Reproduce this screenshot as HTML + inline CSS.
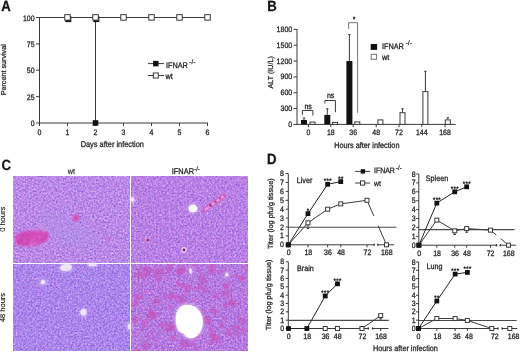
<!DOCTYPE html>
<html><head><meta charset="utf-8"><style>
html,body{margin:0;padding:0;background:#fff;}
body{width:520px;height:353px;overflow:hidden;}
svg{display:block;font-family:"Liberation Sans", sans-serif;filter:blur(0.3px);}
text{stroke:#222;stroke-width:0.25px;text-rendering:geometricPrecision;}
</style></head><body>
<svg width="520" height="353" viewBox="0 0 520 353">
<defs><filter id="txtl" x="0" y="0" width="100%" height="100%" color-interpolation-filters="sRGB">
 <feTurbulence type="fractalNoise" baseFrequency="0.55" numOctaves="2" seed="4" result="t"/>
 <feColorMatrix in="t" type="matrix" values="0.32 -0.45 0 0 0.7983  0.05 -0.5 0 0 0.7662  0.05 -0.22 0 0 1.0026  0 0 0 0 1" result="c"/>
 <feGaussianBlur in="c" stdDeviation="0.65"/>
</filter><filter id="txtr" x="0" y="0" width="100%" height="100%" color-interpolation-filters="sRGB">
 <feTurbulence type="fractalNoise" baseFrequency="0.55" numOctaves="2" seed="8" result="t"/>
 <feColorMatrix in="t" type="matrix" values="0.32 -0.45 0 0 0.7905  0.05 -0.5 0 0 0.7309  0.05 -0.22 0 0 0.9948  0 0 0 0 1" result="c"/>
 <feGaussianBlur in="c" stdDeviation="0.65"/>
</filter><filter id="txbl" x="0" y="0" width="100%" height="100%" color-interpolation-filters="sRGB">
 <feTurbulence type="fractalNoise" baseFrequency="0.55" numOctaves="2" seed="13" result="t"/>
 <feColorMatrix in="t" type="matrix" values="0.32 -0.45 0 0 0.7356  0.05 -0.5 0 0 0.7505  0.05 -0.22 0 0 1.0144  0 0 0 0 1" result="c"/>
 <feGaussianBlur in="c" stdDeviation="0.65"/>
</filter><filter id="txbr" x="0" y="0" width="100%" height="100%" color-interpolation-filters="sRGB">
 <feTurbulence type="fractalNoise" baseFrequency="0.55" numOctaves="2" seed="21" result="t"/>
 <feColorMatrix in="t" type="matrix" values="0.32 -0.45 0 0 0.7787  0.05 -0.5 0 0 0.7113  0.05 -0.22 0 0 0.9791  0 0 0 0 1" result="c"/>
 <feGaussianBlur in="c" stdDeviation="0.65"/>
</filter>
<filter id="bl1" x="-50%" y="-50%" width="200%" height="200%"><feGaussianBlur stdDeviation="0.8"/></filter>
<filter id="bl05" x="-50%" y="-50%" width="200%" height="200%"><feGaussianBlur stdDeviation="0.5"/></filter>
<filter id="bl2" x="-50%" y="-50%" width="200%" height="200%"><feGaussianBlur stdDeviation="1.6"/></filter>
<filter id="mag" x="0" y="0" width="100%" height="100%" color-interpolation-filters="sRGB">
 <feTurbulence type="fractalNoise" baseFrequency="0.12" numOctaves="3" seed="5" result="t"/>
 <feColorMatrix in="t" type="matrix" values="0 0 0 0 0.8  0 0 0 0 0.32  0 0 0 0 0.76  5 0 0 0 -2.7" result="c"/>
 <feGaussianBlur in="c" stdDeviation="0.6"/>
</filter>
<filter id="spk" x="0" y="0" width="100%" height="100%" color-interpolation-filters="sRGB">
 <feTurbulence type="fractalNoise" baseFrequency="0.6" numOctaves="2" seed="17" result="t"/>
 <feColorMatrix in="t" type="matrix" values="0 0 0 0 1  0 0 0 0 0.85  0 0 0 0 1  0 3 0 0 -1.45" result="w"/>
 <feColorMatrix in="t" type="matrix" values="0 0 0 0 0.45  0 0 0 0 0.2  0 0 0 0 0.6  0 0 3 0 -1.45" result="d"/>
 <feMerge result="m"><feMergeNode in="w"/><feMergeNode in="d"/></feMerge>
 <feGaussianBlur in="m" stdDeviation="0.5"/>
</filter>
<filter id="bl5" x="-50%" y="-50%" width="200%" height="200%"><feGaussianBlur stdDeviation="5"/></filter>
<clipPath id="ctl"><rect x="13" y="176" width="116.5" height="86.5"/></clipPath>
<clipPath id="cbr"><rect x="131.3" y="264.2" width="116.7" height="86.6"/></clipPath>
</defs>
<text transform="translate(1.2,10.6) scale(1,1.12)" font-size="13.2" text-anchor="start" fill="#111" font-weight="bold" >A</text><line x1="39.5" y1="17.5" x2="39.5" y2="123.5" stroke="#3a3a3a" stroke-width="1" /><line x1="36" y1="123.0" x2="39.5" y2="123.0" stroke="#3a3a3a" stroke-width="1" /><text transform="translate(34.6,126.0) scale(1,1.12)" font-size="7" text-anchor="end" fill="#1e1e1e" font-weight="normal" >0</text><line x1="36" y1="96.625" x2="39.5" y2="96.625" stroke="#3a3a3a" stroke-width="1" /><text transform="translate(34.6,99.625) scale(1,1.12)" font-size="7" text-anchor="end" fill="#1e1e1e" font-weight="normal" >25</text><line x1="36" y1="70.25" x2="39.5" y2="70.25" stroke="#3a3a3a" stroke-width="1" /><text transform="translate(34.6,73.25) scale(1,1.12)" font-size="7" text-anchor="end" fill="#1e1e1e" font-weight="normal" >50</text><line x1="36" y1="43.875" x2="39.5" y2="43.875" stroke="#3a3a3a" stroke-width="1" /><text transform="translate(34.6,46.875) scale(1,1.12)" font-size="7" text-anchor="end" fill="#1e1e1e" font-weight="normal" >75</text><line x1="36" y1="17.5" x2="39.5" y2="17.5" stroke="#3a3a3a" stroke-width="1" /><text transform="translate(34.6,20.5) scale(1,1.12)" font-size="7" text-anchor="end" fill="#1e1e1e" font-weight="normal" >100</text><line x1="39" y1="123" x2="208" y2="123" stroke="#3a3a3a" stroke-width="1" /><line x1="39.5" y1="123" x2="39.5" y2="126" stroke="#3a3a3a" stroke-width="1" /><text transform="translate(39.5,135) scale(1,1.12)" font-size="7" text-anchor="middle" fill="#1e1e1e" font-weight="normal" >0</text><line x1="67.5" y1="123" x2="67.5" y2="126" stroke="#3a3a3a" stroke-width="1" /><text transform="translate(67.5,135) scale(1,1.12)" font-size="7" text-anchor="middle" fill="#1e1e1e" font-weight="normal" >1</text><line x1="95.5" y1="123" x2="95.5" y2="126" stroke="#3a3a3a" stroke-width="1" /><text transform="translate(95.5,135) scale(1,1.12)" font-size="7" text-anchor="middle" fill="#1e1e1e" font-weight="normal" >2</text><line x1="123.5" y1="123" x2="123.5" y2="126" stroke="#3a3a3a" stroke-width="1" /><text transform="translate(123.5,135) scale(1,1.12)" font-size="7" text-anchor="middle" fill="#1e1e1e" font-weight="normal" >3</text><line x1="151.5" y1="123" x2="151.5" y2="126" stroke="#3a3a3a" stroke-width="1" /><text transform="translate(151.5,135) scale(1,1.12)" font-size="7" text-anchor="middle" fill="#1e1e1e" font-weight="normal" >4</text><line x1="179.5" y1="123" x2="179.5" y2="126" stroke="#3a3a3a" stroke-width="1" /><text transform="translate(179.5,135) scale(1,1.12)" font-size="7" text-anchor="middle" fill="#1e1e1e" font-weight="normal" >5</text><line x1="207.5" y1="123" x2="207.5" y2="126" stroke="#3a3a3a" stroke-width="1" /><text transform="translate(207.5,135) scale(1,1.12)" font-size="7" text-anchor="middle" fill="#1e1e1e" font-weight="normal" >6</text><text transform="translate(112.3,147) scale(1,1.12)" font-size="7.4" text-anchor="middle" fill="#1e1e1e" font-weight="normal" >Days after infection</text><text transform="translate(6.0,69.8) rotate(-90)" font-size="7.2" text-anchor="middle" fill="#1e1e1e">Percent survival</text><line x1="39.5" y1="17.5" x2="207.5" y2="17.5" stroke="#3a3a3a" stroke-width="1" /><line x1="95.5" y1="17.5" x2="95.5" y2="123" stroke="#3a3a3a" stroke-width="1" /><rect x="65.3" y="16.1" width="6" height="6" fill="#111"/><rect x="93.3" y="16.1" width="6" height="6" fill="#111"/><rect x="92.7" y="120.2" width="5.6" height="5.6" fill="#111"/><rect x="64.75" y="14.649999999999999" width="5.5" height="5.5" fill="#fff" stroke="#3a3a3a" stroke-width="1"/><rect x="92.75" y="14.649999999999999" width="5.5" height="5.5" fill="#fff" stroke="#3a3a3a" stroke-width="1"/><rect x="120.75" y="14.649999999999999" width="5.5" height="5.5" fill="#fff" stroke="#3a3a3a" stroke-width="1"/><rect x="148.75" y="14.649999999999999" width="5.5" height="5.5" fill="#fff" stroke="#3a3a3a" stroke-width="1"/><rect x="176.75" y="14.649999999999999" width="5.5" height="5.5" fill="#fff" stroke="#3a3a3a" stroke-width="1"/><rect x="204.75" y="14.649999999999999" width="5.5" height="5.5" fill="#fff" stroke="#3a3a3a" stroke-width="1"/><line x1="148" y1="63.6" x2="164" y2="63.6" stroke="#3a3a3a" stroke-width="1" /><rect x="153.05" y="60.85" width="5.5" height="5.5" fill="#111"/><text transform="translate(166,68) scale(1,1.12)" font-size="7.3" text-anchor="start" fill="#1e1e1e" font-weight="normal" >IFNAR</text><text transform="translate(189.3,63.6) scale(1,1.12)" font-size="5.8" text-anchor="start" fill="#1e1e1e" font-weight="normal" letter-spacing="0.3">-/-</text><line x1="148" y1="75.5" x2="164" y2="75.5" stroke="#3a3a3a" stroke-width="1" /><rect x="153.3" y="73.0" width="5" height="5" fill="#fff" stroke="#3a3a3a" stroke-width="1"/><text transform="translate(165.6,78.7) scale(1,1.12)" font-size="7.3" text-anchor="start" fill="#1e1e1e" font-weight="normal" >wt</text><text transform="translate(267.3,10.6) scale(1,1.12)" font-size="13.2" text-anchor="start" fill="#111" font-weight="bold" >B</text><line x1="297" y1="29" x2="297" y2="124.9" stroke="#3a3a3a" stroke-width="1" /><line x1="293.5" y1="124.4" x2="297" y2="124.4" stroke="#3a3a3a" stroke-width="1" /><text transform="translate(292.2,126.9) scale(1,1.12)" font-size="7" text-anchor="end" fill="#1e1e1e" font-weight="normal" >0</text><line x1="293.5" y1="108.57000000000001" x2="297" y2="108.57000000000001" stroke="#3a3a3a" stroke-width="1" /><text transform="translate(292.2,111.07000000000001) scale(1,1.12)" font-size="7" text-anchor="end" fill="#1e1e1e" font-weight="normal" >300</text><line x1="293.5" y1="92.74000000000001" x2="297" y2="92.74000000000001" stroke="#3a3a3a" stroke-width="1" /><text transform="translate(292.2,95.24000000000001) scale(1,1.12)" font-size="7" text-anchor="end" fill="#1e1e1e" font-weight="normal" >600</text><line x1="293.5" y1="76.91" x2="297" y2="76.91" stroke="#3a3a3a" stroke-width="1" /><text transform="translate(292.2,79.41) scale(1,1.12)" font-size="7" text-anchor="end" fill="#1e1e1e" font-weight="normal" >900</text><line x1="293.5" y1="61.08" x2="297" y2="61.08" stroke="#3a3a3a" stroke-width="1" /><text transform="translate(292.2,63.58) scale(1,1.12)" font-size="7" text-anchor="end" fill="#1e1e1e" font-weight="normal" >1200</text><line x1="293.5" y1="45.25" x2="297" y2="45.25" stroke="#3a3a3a" stroke-width="1" /><text transform="translate(292.2,47.75) scale(1,1.12)" font-size="7" text-anchor="end" fill="#1e1e1e" font-weight="normal" >1500</text><line x1="293.5" y1="29.42" x2="297" y2="29.42" stroke="#3a3a3a" stroke-width="1" /><text transform="translate(292.2,31.92) scale(1,1.12)" font-size="7" text-anchor="end" fill="#1e1e1e" font-weight="normal" >1800</text><line x1="296.5" y1="124.4" x2="455.7" y2="124.4" stroke="#3a3a3a" stroke-width="1" /><line x1="308.4" y1="124.4" x2="308.4" y2="127.2" stroke="#3a3a3a" stroke-width="1" /><text transform="translate(308.4,135.1) scale(1,1.12)" font-size="7" text-anchor="middle" fill="#1e1e1e" font-weight="normal" >0</text><line x1="330.8" y1="124.4" x2="330.8" y2="127.2" stroke="#3a3a3a" stroke-width="1" /><text transform="translate(330.8,135.1) scale(1,1.12)" font-size="7" text-anchor="middle" fill="#1e1e1e" font-weight="normal" >18</text><line x1="353.2" y1="124.4" x2="353.2" y2="127.2" stroke="#3a3a3a" stroke-width="1" /><text transform="translate(353.2,135.1) scale(1,1.12)" font-size="7" text-anchor="middle" fill="#1e1e1e" font-weight="normal" >36</text><line x1="376.2" y1="124.4" x2="376.2" y2="127.2" stroke="#3a3a3a" stroke-width="1" /><text transform="translate(376.2,135.1) scale(1,1.12)" font-size="7" text-anchor="middle" fill="#1e1e1e" font-weight="normal" >48</text><line x1="399.0" y1="124.4" x2="399.0" y2="127.2" stroke="#3a3a3a" stroke-width="1" /><text transform="translate(399.0,135.1) scale(1,1.12)" font-size="7" text-anchor="middle" fill="#1e1e1e" font-weight="normal" >72</text><line x1="421.8" y1="124.4" x2="421.8" y2="127.2" stroke="#3a3a3a" stroke-width="1" /><text transform="translate(421.8,135.1) scale(1,1.12)" font-size="7" text-anchor="middle" fill="#1e1e1e" font-weight="normal" >144</text><line x1="445.0" y1="124.4" x2="445.0" y2="127.2" stroke="#3a3a3a" stroke-width="1" /><text transform="translate(445.0,135.1) scale(1,1.12)" font-size="7" text-anchor="middle" fill="#1e1e1e" font-weight="normal" >168</text><text transform="translate(366.8,147.6) scale(1,1.12)" font-size="7.3" text-anchor="middle" fill="#1e1e1e" font-weight="normal" >Hours after infection</text><text transform="translate(273.1,72.3) rotate(-90)" font-size="7.2" text-anchor="middle" fill="#1e1e1e">ALT (IU/L)</text><line x1="304.0" y1="118.01523333333334" x2="304.0" y2="119.91483333333333" stroke="#3a3a3a" stroke-width="1" /><line x1="302.8" y1="118.01523333333334" x2="305.2" y2="118.01523333333334" stroke="#3a3a3a" stroke-width="1" /><rect x="301.0" y="119.91483333333333" width="6" height="4.485166666666672" fill="#111"/><line x1="327.3" y1="108.78106666666667" x2="327.3" y2="114.902" stroke="#3a3a3a" stroke-width="1" /><line x1="326.1" y1="108.78106666666667" x2="328.5" y2="108.78106666666667" stroke="#3a3a3a" stroke-width="1" /><rect x="324.3" y="114.902" width="6" height="9.498000000000005" fill="#111"/><line x1="349.4" y1="34.59113333333333" x2="349.4" y2="61.027233333333335" stroke="#3a3a3a" stroke-width="1" /><line x1="348.2" y1="34.59113333333333" x2="350.59999999999997" y2="34.59113333333333" stroke="#3a3a3a" stroke-width="1" /><rect x="346.4" y="61.027233333333335" width="6" height="63.37276666666667" fill="#111"/><rect x="310.0" y="122.10336666666667" width="5" height="2.2966333333333324" fill="#fff" stroke="#3a3a3a" stroke-width="1"/><rect x="332.5" y="122.41996666666667" width="5" height="1.9800333333333384" fill="#fff" stroke="#3a3a3a" stroke-width="1"/><rect x="354.8" y="121.8923" width="5" height="2.5077" fill="#fff" stroke="#3a3a3a" stroke-width="1"/><rect x="377.9" y="119.88716666666667" width="5" height="4.512833333333333" fill="#fff" stroke="#3a3a3a" stroke-width="1"/><line x1="402.5" y1="108.78106666666667" x2="402.5" y2="112.21090000000001" stroke="#3a3a3a" stroke-width="1" /><line x1="401.3" y1="108.78106666666667" x2="403.7" y2="108.78106666666667" stroke="#3a3a3a" stroke-width="1" /><rect x="400.0" y="112.71090000000001" width="5" height="11.689099999999996" fill="#fff" stroke="#3a3a3a" stroke-width="1"/><line x1="425.4" y1="71.31673333333333" x2="425.4" y2="91.10423333333334" stroke="#3a3a3a" stroke-width="1" /><line x1="424.2" y1="71.31673333333333" x2="426.59999999999997" y2="71.31673333333333" stroke="#3a3a3a" stroke-width="1" /><rect x="422.9" y="91.60423333333334" width="5" height="32.795766666666665" fill="#fff" stroke="#3a3a3a" stroke-width="1"/><line x1="447.8" y1="117.80416666666667" x2="447.8" y2="119.38716666666667" stroke="#3a3a3a" stroke-width="1" /><line x1="446.6" y1="117.80416666666667" x2="449.0" y2="117.80416666666667" stroke="#3a3a3a" stroke-width="1" /><rect x="445.3" y="119.88716666666667" width="5" height="4.512833333333333" fill="#fff" stroke="#3a3a3a" stroke-width="1"/><polyline points="302.4,114.9 302.4,110.5 312.9,110.5 312.9,115.6" fill="none" stroke="#3a3a3a" stroke-width="1"/><text transform="translate(308.15,108.8) scale(1,1.12)" font-size="7.1" text-anchor="middle" fill="#1e1e1e" font-weight="normal" >ns</text><polyline points="324.9,103.5 324.9,100.5 335.4,100.5 335.4,112.2" fill="none" stroke="#3a3a3a" stroke-width="1"/><text transform="translate(330.65,98.3) scale(1,1.12)" font-size="7.1" text-anchor="middle" fill="#1e1e1e" font-weight="normal" >ns</text><polyline points="348.6,28.7 348.6,22.7 357.6,22.7 357.6,112.9" fill="none" stroke="#777" stroke-width="1"/><text transform="translate(354,21.8) scale(1,1.12)" font-size="7" text-anchor="middle" fill="#1e1e1e" font-weight="normal" >*</text><rect x="370.7" y="44" width="6.4" height="5.9" fill="#111"/><rect x="371.2" y="54.3" width="5.4" height="5" fill="#fff" stroke="#777" stroke-width="1"/><text transform="translate(382,48.9) scale(1,1.12)" font-size="7.3" text-anchor="start" fill="#1e1e1e" font-weight="normal" >IFNAR</text><text transform="translate(405.8,45.1) scale(1,1.12)" font-size="5.8" text-anchor="start" fill="#1e1e1e" font-weight="normal" letter-spacing="0.3">-/-</text><text transform="translate(382,59.6) scale(1,1.12)" font-size="7.3" text-anchor="start" fill="#1e1e1e" font-weight="normal" >wt</text><text transform="translate(1.5,169.5) scale(1,1.12)" font-size="13.2" text-anchor="start" fill="#111" font-weight="bold" >C</text><text transform="translate(71.3,174.2) scale(1,1.12)" font-size="7.3" text-anchor="middle" fill="#1e1e1e" font-weight="normal" style="stroke-width:0.15px">wt</text><text transform="translate(171.8,174.2) scale(1,1.12)" font-size="7.4" text-anchor="start" fill="#1e1e1e" font-weight="normal" >IFNAR</text><text transform="translate(194.2,171.4) scale(1,1.12)" font-size="5.8" text-anchor="start" fill="#1e1e1e" font-weight="normal" >-/-</text><text transform="translate(5.2,219.3) rotate(-90)" font-size="7.5" text-anchor="middle" fill="#1e1e1e" style="stroke-width:0.15px">0 hours</text><text transform="translate(5.2,307.5) rotate(-90)" font-size="7.5" text-anchor="middle" fill="#1e1e1e" style="stroke-width:0.15px">48 hours</text><rect x="13" y="176" width="116.5" height="86.5" filter="url(#txtl)"/>
<rect x="131.3" y="176" width="116.7" height="86.5" filter="url(#txtr)"/>
<rect x="13" y="264.2" width="116.5" height="86.6" filter="url(#txbl)"/>
<rect x="131.3" y="264.2" width="116.7" height="86.6" filter="url(#txbr)"/>
<rect x="131.3" y="264.2" width="116.7" height="86.6" filter="url(#mag)" opacity="0.75"/>
<g clip-path="url(#cbr)"><g filter="url(#bl2)" fill="#c448b0" opacity="0.55">
<ellipse cx="138.9" cy="274.7" rx="4" ry="3.4"/>
<ellipse cx="146.6" cy="273.5" rx="4" ry="3.4"/>
<ellipse cx="159.3" cy="272.2" rx="5" ry="4.25"/>
<ellipse cx="181" cy="269.6" rx="4" ry="3.4"/>
<ellipse cx="202.6" cy="279.8" rx="4" ry="3.4"/>
<ellipse cx="206.4" cy="290" rx="3" ry="2.55"/>
<ellipse cx="225.5" cy="293.8" rx="4" ry="3.4"/>
<ellipse cx="231.9" cy="302.8" rx="4" ry="3.4"/>
<ellipse cx="156.8" cy="301.5" rx="4" ry="3.4"/>
<ellipse cx="182.2" cy="300.2" rx="4" ry="3.4"/>
<ellipse cx="170.8" cy="327" rx="6" ry="5.1"/>
<ellipse cx="206.4" cy="320.6" rx="5" ry="4.25"/>
<ellipse cx="184.8" cy="343.5" rx="5" ry="4.25"/>
<ellipse cx="242.1" cy="320.6" rx="4" ry="3.4"/>
<ellipse cx="150.4" cy="315.5" rx="4" ry="3.4"/>
<ellipse cx="216.6" cy="338.4" rx="4" ry="3.4"/>
<ellipse cx="145.3" cy="346" rx="4" ry="3.4"/>
<ellipse cx="237" cy="333.3" rx="3" ry="2.55"/>
</g></g>
<g clip-path="url(#ctl)"><ellipse cx="68" cy="230" rx="34" ry="13" transform="rotate(28 68 230)" fill="#a898ec" opacity="0.35" filter="url(#bl5)"/></g>
<g filter="url(#bl1)">
<path d="M15.3,238.8 C15.5,235 17,233.8 18.8,233.5 C22,231.5 25,230.8 27.7,230.8 L39.2,230.4 C44,230.3 48.5,232 48.9,235.3 C49,238 47,240.5 45.4,241.5 C41,244 36,246.2 32.1,246.3 L20.6,245.9 C18,245.5 16.2,244.5 16.2,243.2 C15.5,241.5 15.3,240 15.3,238.8 Z" fill="#d648b8"/>
<path d="M33.9,228.6 C40,228.3 46,229.5 48.5,232" stroke="#e890e0" stroke-width="1.2" fill="none" opacity="0.7"/>
<circle cx="24.9" cy="239.1" r="0.8" fill="#ec80d8" opacity="0.8"/>
<circle cx="31.7" cy="239.6" r="1.0" fill="#b02c90" opacity="0.8"/>
<circle cx="25.5" cy="235.0" r="1.2" fill="#b02c90" opacity="0.8"/>
<circle cx="33.7" cy="239.1" r="0.8" fill="#f098e0" opacity="0.8"/>
<circle cx="24.7" cy="234.0" r="1.2" fill="#b02c90" opacity="0.8"/>
<circle cx="39.5" cy="240.7" r="0.6" fill="#ec80d8" opacity="0.8"/>
<circle cx="19.2" cy="242.1" r="1.1" fill="#b02c90" opacity="0.8"/>
<circle cx="31.7" cy="241.3" r="1.1" fill="#ec80d8" opacity="0.8"/>
<circle cx="40.9" cy="237.6" r="1.0" fill="#ec80d8" opacity="0.8"/>
<circle cx="30.9" cy="244.2" r="1.1" fill="#f098e0" opacity="0.8"/>
<circle cx="19.0" cy="238.4" r="0.8" fill="#ec80d8" opacity="0.8"/>
<circle cx="30.6" cy="240.1" r="0.8" fill="#ec80d8" opacity="0.8"/>
<circle cx="42.2" cy="239.5" r="0.9" fill="#b02c90" opacity="0.8"/>
<circle cx="34.9" cy="243.8" r="1.0" fill="#f098e0" opacity="0.8"/>
<circle cx="42.8" cy="244.9" r="1.0" fill="#f098e0" opacity="0.8"/>
<circle cx="38.3" cy="236.2" r="0.9" fill="#ec80d8" opacity="0.8"/>
<circle cx="34.5" cy="241.3" r="0.7" fill="#ec80d8" opacity="0.8"/>
<circle cx="25.7" cy="233.6" r="0.9" fill="#ec80d8" opacity="0.8"/>
<circle cx="46.7" cy="233.2" r="1.1" fill="#b02c90" opacity="0.8"/>
<circle cx="44.0" cy="232.3" r="0.9" fill="#b02c90" opacity="0.8"/>
<circle cx="43.3" cy="232.6" r="1.0" fill="#f098e0" opacity="0.8"/>
<circle cx="29.0" cy="239.6" r="0.9" fill="#b02c90" opacity="0.8"/>
<circle cx="32.7" cy="245.0" r="0.8" fill="#f098e0" opacity="0.8"/>
<circle cx="21.1" cy="239.0" r="1.2" fill="#b02c90" opacity="0.8"/>
<circle cx="26.5" cy="235.4" r="1.0" fill="#b02c90" opacity="0.8"/>
<circle cx="27.1" cy="244.5" r="1.1" fill="#b02c90" opacity="0.8"/>
<ellipse cx="76.2" cy="217.8" rx="3.4" ry="3.6" fill="#d850b8"/>
<ellipse cx="108.8" cy="239" rx="1.2" ry="2.2" fill="#c860c0"/>
</g>
<g filter="url(#bl05)">
<line x1="204.8" y1="210" x2="223.5" y2="196" stroke="#d860b8" stroke-width="4.6" stroke-linecap="round" opacity="0.9"/>
<line x1="205.6" y1="209.3" x2="222.8" y2="196.6" stroke="#eaa0e4" stroke-width="2.2" stroke-linecap="round"/>
<circle cx="210.5" cy="205.4" r="1.4" fill="#a03080"/>
<circle cx="215.5" cy="201.8" r="1.2" fill="#b03890"/>
<circle cx="220" cy="198.4" r="1.1" fill="#b03890"/>
<circle cx="147.9" cy="240.2" r="2.8" fill="#e090d8" opacity="0.8"/>
<circle cx="147.9" cy="240.2" r="1.4" fill="#903070"/>
<circle cx="184" cy="249.9" r="2.8" fill="#f4d0f4"/>
<circle cx="184" cy="249.9" r="1.4" fill="#602860"/>
</g>
<rect x="13" y="176" width="116.5" height="86.5" filter="url(#spk)" opacity="0.2"/>
<rect x="131.3" y="176" width="116.7" height="86.5" filter="url(#spk)" opacity="0.2"/>
<rect x="13" y="264.2" width="116.5" height="86.6" filter="url(#spk)" opacity="0.2"/>
<rect x="131.3" y="264.2" width="116.7" height="86.6" filter="url(#spk)" opacity="0.2"/>
<g filter="url(#bl2)" opacity="0.5" stroke="#f0dcff" stroke-width="2.5">
<ellipse cx="192.9" cy="208.5" rx="4.3" ry="3.7" fill="#f0dcff"/>
<ellipse cx="132.6" cy="199.5" rx="1.6" ry="2.2" fill="#f0dcff"/>
<path d="M60.5,268.5 C60,265.5 63,264 66.5,264 C70,264 72.2,265.2 71.8,267.5 C71.3,270 68,271.2 64.5,271 C62,270.8 60.8,270 60.5,268.5 Z" fill="#f0dcff"/>
<ellipse cx="92.5" cy="265" rx="4" ry="1.2" fill="#f0dcff"/>
<circle cx="43" cy="282.1" r="2.2" fill="#f0dcff"/>
<ellipse cx="83.5" cy="312.3" rx="3" ry="3.4" fill="#f0dcff"/>
<ellipse cx="129" cy="326.5" rx="1.3" ry="2.8" fill="#f0dcff"/>
<path d="M186,304.8 C195,304.2 202,311 202.8,320 C203.6,330 198,337.8 191,338.3 C186.5,338.5 185,335 183.4,333.6 C181,333 176.5,331 175.8,322 C175.2,312 179,305.2 186,304.8 Z" fill="#f0dcff"/>
<ellipse cx="190.6" cy="270.9" rx="1.1" ry="2.6" fill="#f0dcff"/>
<circle cx="226.8" cy="274.7" r="1.7" fill="#f0dcff"/>
</g>
<g filter="url(#bl05)">
<ellipse cx="192.9" cy="208.5" rx="4.3" ry="3.7" fill="#fdf8ff"/>
<ellipse cx="132.6" cy="199.5" rx="1.6" ry="2.2" fill="#f4eefa"/>
<path d="M60.5,268.5 C60,265.5 63,264 66.5,264 C70,264 72.2,265.2 71.8,267.5 C71.3,270 68,271.2 64.5,271 C62,270.8 60.8,270 60.5,268.5 Z" fill="#ece6f2"/>
<ellipse cx="92.5" cy="265" rx="4" ry="1.2" fill="#e8e0f4"/>
<circle cx="43" cy="282.1" r="2.2" fill="#eee8f6"/>
<ellipse cx="83.5" cy="312.3" rx="3" ry="3.4" fill="#ece6f4"/>
<ellipse cx="129" cy="326.5" rx="1.3" ry="2.8" fill="#ece6f4"/>
<path d="M186,304.8 C195,304.2 202,311 202.8,320 C203.6,330 198,337.8 191,338.3 C186.5,338.5 185,335 183.4,333.6 C181,333 176.5,331 175.8,322 C175.2,312 179,305.2 186,304.8 Z" fill="#ffffff"/>
<ellipse cx="190.6" cy="270.9" rx="1.1" ry="2.6" fill="#f6f0fa"/>
<circle cx="226.8" cy="274.7" r="1.7" fill="#f6f0fa"/>
</g><text transform="translate(267,163.8) scale(1,1.12)" font-size="13.2" text-anchor="start" fill="#111" font-weight="bold" >D</text><text transform="translate(272.9,213.7) rotate(-90)" font-size="7.35" text-anchor="middle" fill="#1e1e1e">Titer (log pfu/g tissue)</text><text transform="translate(271.4,294.8) rotate(-90)" font-size="7.35" text-anchor="middle" fill="#1e1e1e">Titer (log pfu/g tissue)</text><text transform="translate(405.4,351) scale(1,1.12)" font-size="7.25" text-anchor="middle" fill="#1e1e1e" font-weight="normal" >Hours after infection</text><line x1="355.1" y1="171.4" x2="370.2" y2="171.4" stroke="#3a3a3a" stroke-width="1" /><rect x="360.7" y="169.20000000000002" width="4.4" height="4.4" fill="#111"/><text transform="translate(374,173.4) scale(1,1.12)" font-size="6.95" text-anchor="start" fill="#1e1e1e" font-weight="normal" >IFNAR</text><text transform="translate(396,169.9) scale(1,1.12)" font-size="5.8" text-anchor="start" fill="#1e1e1e" font-weight="normal" letter-spacing="0.1">-/-</text><line x1="355.1" y1="183" x2="370.2" y2="183" stroke="#3a3a3a" stroke-width="1" /><rect x="360.5" y="180.9" width="4.2" height="4.2" fill="#fff" stroke="#3a3a3a" stroke-width="1"/><text transform="translate(374,185.5) scale(1,1.12)" font-size="6.8" text-anchor="start" fill="#1e1e1e" font-weight="normal" >wt</text><line x1="288.3" y1="173.60000000000002" x2="288.3" y2="245.3" stroke="#3a3a3a" stroke-width="1" /><line x1="285.7" y1="244.8" x2="288.3" y2="244.8" stroke="#3a3a3a" stroke-width="1" /><text transform="translate(284.0,247.3) scale(1,1.12)" font-size="7" text-anchor="end" fill="#1e1e1e" font-weight="normal" >0</text><line x1="285.7" y1="235.9" x2="288.3" y2="235.9" stroke="#3a3a3a" stroke-width="1" /><text transform="translate(284.0,238.4) scale(1,1.12)" font-size="7" text-anchor="end" fill="#1e1e1e" font-weight="normal" >1</text><line x1="285.7" y1="227.0" x2="288.3" y2="227.0" stroke="#3a3a3a" stroke-width="1" /><text transform="translate(284.0,229.5) scale(1,1.12)" font-size="7" text-anchor="end" fill="#1e1e1e" font-weight="normal" >2</text><line x1="285.7" y1="218.10000000000002" x2="288.3" y2="218.10000000000002" stroke="#3a3a3a" stroke-width="1" /><text transform="translate(284.0,220.60000000000002) scale(1,1.12)" font-size="7" text-anchor="end" fill="#1e1e1e" font-weight="normal" >3</text><line x1="285.7" y1="209.20000000000002" x2="288.3" y2="209.20000000000002" stroke="#3a3a3a" stroke-width="1" /><text transform="translate(284.0,211.70000000000002) scale(1,1.12)" font-size="7" text-anchor="end" fill="#1e1e1e" font-weight="normal" >4</text><line x1="285.7" y1="200.3" x2="288.3" y2="200.3" stroke="#3a3a3a" stroke-width="1" /><text transform="translate(284.0,202.8) scale(1,1.12)" font-size="7" text-anchor="end" fill="#1e1e1e" font-weight="normal" >5</text><line x1="285.7" y1="191.4" x2="288.3" y2="191.4" stroke="#3a3a3a" stroke-width="1" /><text transform="translate(284.0,193.9) scale(1,1.12)" font-size="7" text-anchor="end" fill="#1e1e1e" font-weight="normal" >6</text><line x1="285.7" y1="182.5" x2="288.3" y2="182.5" stroke="#3a3a3a" stroke-width="1" /><text transform="translate(284.0,185.0) scale(1,1.12)" font-size="7" text-anchor="end" fill="#1e1e1e" font-weight="normal" >7</text><line x1="285.7" y1="173.60000000000002" x2="288.3" y2="173.60000000000002" stroke="#3a3a3a" stroke-width="1" /><text transform="translate(284.0,176.10000000000002) scale(1,1.12)" font-size="7" text-anchor="end" fill="#1e1e1e" font-weight="normal" >8</text><line x1="288.3" y1="244.8" x2="374.4" y2="244.8" stroke="#3a3a3a" stroke-width="1" /><line x1="377.6" y1="244.8" x2="394" y2="244.8" stroke="#3a3a3a" stroke-width="1" /><ellipse cx="374.09999999999997" cy="244.8" rx="0.8" ry="1.3" fill="#3a3a3a"/><ellipse cx="377.90000000000003" cy="244.8" rx="0.8" ry="1.3" fill="#3a3a3a"/><line x1="288.3" y1="244.8" x2="288.3" y2="247.3" stroke="#3a3a3a" stroke-width="1" /><text transform="translate(288.6,255.3) scale(1,1.12)" font-size="7" text-anchor="middle" fill="#1e1e1e" font-weight="normal" >0</text><line x1="307.974" y1="244.8" x2="307.974" y2="247.3" stroke="#3a3a3a" stroke-width="1" /><text transform="translate(308.274,255.3) scale(1,1.12)" font-size="7" text-anchor="middle" fill="#1e1e1e" font-weight="normal" >18</text><line x1="327.648" y1="244.8" x2="327.648" y2="247.3" stroke="#3a3a3a" stroke-width="1" /><text transform="translate(327.94800000000004,255.3) scale(1,1.12)" font-size="7" text-anchor="middle" fill="#1e1e1e" font-weight="normal" >36</text><line x1="340.764" y1="244.8" x2="340.764" y2="247.3" stroke="#3a3a3a" stroke-width="1" /><text transform="translate(341.064,255.3) scale(1,1.12)" font-size="7" text-anchor="middle" fill="#1e1e1e" font-weight="normal" >48</text><line x1="366.996" y1="244.8" x2="366.996" y2="247.3" stroke="#3a3a3a" stroke-width="1" /><text transform="translate(367.40000000000003,255.3) scale(1,1.12)" font-size="7" text-anchor="middle" fill="#1e1e1e" font-weight="normal" >72</text><line x1="386.5" y1="244.8" x2="386.5" y2="247.3" stroke="#3a3a3a" stroke-width="1" /><text transform="translate(386.8,255.3) scale(1,1.12)" font-size="7" text-anchor="middle" fill="#1e1e1e" font-weight="normal" >168</text><line x1="288.3" y1="227.267" x2="396.4" y2="227.267" stroke="#4a4a4a" stroke-width="1.2" /><text transform="translate(296.7,182.7) scale(1,1.12)" font-size="7.2" text-anchor="start" fill="#1e1e1e" font-weight="normal" >Liver</text><polyline points="288.30,244.80 307.97,222.82 327.65,209.20 340.76,203.86 367.00,200.30 373.90,216.05" fill="none" stroke="#3a3a3a" stroke-width="1"/><polyline points="378.10,225.63 386.50,244.80" fill="none" stroke="#3a3a3a" stroke-width="1"/><polyline points="288.30,244.80 307.97,213.65 327.65,184.28 340.76,181.61" fill="none" stroke="#222" stroke-width="1"/><line x1="307.974" y1="222.817" x2="307.974" y2="228.602" stroke="#3a3a3a" stroke-width="1" /><line x1="306.674" y1="228.602" x2="309.274" y2="228.602" stroke="#3a3a3a" stroke-width="1" /><rect x="286.3" y="242.8" width="4.0" height="4.0" fill="#fff" stroke="#3a3a3a" stroke-width="1"/><rect x="305.974" y="220.817" width="4.0" height="4.0" fill="#fff" stroke="#3a3a3a" stroke-width="1"/><rect x="325.648" y="207.20000000000002" width="4.0" height="4.0" fill="#fff" stroke="#3a3a3a" stroke-width="1"/><rect x="338.764" y="201.86" width="4.0" height="4.0" fill="#fff" stroke="#3a3a3a" stroke-width="1"/><rect x="364.996" y="198.3" width="4.0" height="4.0" fill="#fff" stroke="#3a3a3a" stroke-width="1"/><rect x="384.5" y="242.8" width="4.0" height="4.0" fill="#fff" stroke="#3a3a3a" stroke-width="1"/><rect x="285.90000000000003" y="242.4" width="4.8" height="4.8" fill="#111"/><rect x="305.574" y="211.25" width="4.8" height="4.8" fill="#111"/><rect x="325.24800000000005" y="181.88" width="4.8" height="4.8" fill="#111"/><rect x="338.36400000000003" y="179.21" width="4.8" height="4.8" fill="#111"/><text transform="translate(308.174,212.65) scale(1,1.12)" font-size="6" text-anchor="middle" fill="#1e1e1e" font-weight="normal" letter-spacing="0.4">*</text><text transform="translate(327.848,183.28) scale(1,1.12)" font-size="6" text-anchor="middle" fill="#1e1e1e" font-weight="normal" letter-spacing="0.4">***</text><text transform="translate(340.964,180.61) scale(1,1.12)" font-size="6" text-anchor="middle" fill="#1e1e1e" font-weight="normal" letter-spacing="0.4">**</text><line x1="418.8" y1="174.0" x2="418.8" y2="245.7" stroke="#3a3a3a" stroke-width="1" /><line x1="416.2" y1="245.2" x2="418.8" y2="245.2" stroke="#3a3a3a" stroke-width="1" /><text transform="translate(415.6,247.7) scale(1,1.12)" font-size="7" text-anchor="end" fill="#1e1e1e" font-weight="normal" >0</text><line x1="416.2" y1="236.29999999999998" x2="418.8" y2="236.29999999999998" stroke="#3a3a3a" stroke-width="1" /><text transform="translate(415.6,238.79999999999998) scale(1,1.12)" font-size="7" text-anchor="end" fill="#1e1e1e" font-weight="normal" >1</text><line x1="416.2" y1="227.39999999999998" x2="418.8" y2="227.39999999999998" stroke="#3a3a3a" stroke-width="1" /><text transform="translate(415.6,229.89999999999998) scale(1,1.12)" font-size="7" text-anchor="end" fill="#1e1e1e" font-weight="normal" >2</text><line x1="416.2" y1="218.5" x2="418.8" y2="218.5" stroke="#3a3a3a" stroke-width="1" /><text transform="translate(415.6,221.0) scale(1,1.12)" font-size="7" text-anchor="end" fill="#1e1e1e" font-weight="normal" >3</text><line x1="416.2" y1="209.6" x2="418.8" y2="209.6" stroke="#3a3a3a" stroke-width="1" /><text transform="translate(415.6,212.1) scale(1,1.12)" font-size="7" text-anchor="end" fill="#1e1e1e" font-weight="normal" >4</text><line x1="416.2" y1="200.7" x2="418.8" y2="200.7" stroke="#3a3a3a" stroke-width="1" /><text transform="translate(415.6,203.2) scale(1,1.12)" font-size="7" text-anchor="end" fill="#1e1e1e" font-weight="normal" >5</text><line x1="416.2" y1="191.79999999999998" x2="418.8" y2="191.79999999999998" stroke="#3a3a3a" stroke-width="1" /><text transform="translate(415.6,194.29999999999998) scale(1,1.12)" font-size="7" text-anchor="end" fill="#1e1e1e" font-weight="normal" >6</text><line x1="416.2" y1="182.89999999999998" x2="418.8" y2="182.89999999999998" stroke="#3a3a3a" stroke-width="1" /><text transform="translate(415.6,185.39999999999998) scale(1,1.12)" font-size="7" text-anchor="end" fill="#1e1e1e" font-weight="normal" >7</text><line x1="416.2" y1="174.0" x2="418.8" y2="174.0" stroke="#3a3a3a" stroke-width="1" /><text transform="translate(415.6,176.5) scale(1,1.12)" font-size="7" text-anchor="end" fill="#1e1e1e" font-weight="normal" >8</text><line x1="418.8" y1="245.2" x2="496.8" y2="245.2" stroke="#3a3a3a" stroke-width="1" /><line x1="500.1" y1="245.2" x2="516" y2="245.2" stroke="#3a3a3a" stroke-width="1" /><ellipse cx="496.5" cy="245.2" rx="0.8" ry="1.3" fill="#3a3a3a"/><ellipse cx="500.40000000000003" cy="245.2" rx="0.8" ry="1.3" fill="#3a3a3a"/><line x1="418.9" y1="245.2" x2="418.9" y2="247.7" stroke="#3a3a3a" stroke-width="1" /><text transform="translate(419.2,255.7) scale(1,1.12)" font-size="7" text-anchor="middle" fill="#1e1e1e" font-weight="normal" >0</text><line x1="436.81" y1="245.2" x2="436.81" y2="247.7" stroke="#3a3a3a" stroke-width="1" /><text transform="translate(437.11,255.7) scale(1,1.12)" font-size="7" text-anchor="middle" fill="#1e1e1e" font-weight="normal" >18</text><line x1="454.71999999999997" y1="245.2" x2="454.71999999999997" y2="247.7" stroke="#3a3a3a" stroke-width="1" /><text transform="translate(455.02,255.7) scale(1,1.12)" font-size="7" text-anchor="middle" fill="#1e1e1e" font-weight="normal" >36</text><line x1="466.65999999999997" y1="245.2" x2="466.65999999999997" y2="247.7" stroke="#3a3a3a" stroke-width="1" /><text transform="translate(466.96,255.7) scale(1,1.12)" font-size="7" text-anchor="middle" fill="#1e1e1e" font-weight="normal" >48</text><line x1="490.53999999999996" y1="245.2" x2="490.53999999999996" y2="247.7" stroke="#3a3a3a" stroke-width="1" /><text transform="translate(490.6,255.7) scale(1,1.12)" font-size="7" text-anchor="middle" fill="#1e1e1e" font-weight="normal" >72</text><line x1="508.5" y1="245.2" x2="508.5" y2="247.7" stroke="#3a3a3a" stroke-width="1" /><text transform="translate(508.8,255.7) scale(1,1.12)" font-size="7" text-anchor="middle" fill="#1e1e1e" font-weight="normal" >168</text><line x1="418.8" y1="229.625" x2="514.5" y2="229.625" stroke="#4a4a4a" stroke-width="1.2" /><text transform="translate(425.8,181.3) scale(1,1.12)" font-size="7.2" text-anchor="start" fill="#1e1e1e" font-weight="normal" >Spleen</text><polyline points="418.90,245.20 436.81,220.10 454.72,230.78 466.66,228.56 490.54,230.16 496.30,234.98" fill="none" stroke="#3a3a3a" stroke-width="1"/><polyline points="500.60,238.58 508.50,245.20" fill="none" stroke="#3a3a3a" stroke-width="1"/><polyline points="418.90,245.20 436.81,203.10 454.72,191.80 466.66,186.82" fill="none" stroke="#222" stroke-width="1"/><line x1="454.71999999999997" y1="230.78199999999998" x2="454.71999999999997" y2="234.51999999999998" stroke="#3a3a3a" stroke-width="1" /><line x1="453.41999999999996" y1="234.51999999999998" x2="456.02" y2="234.51999999999998" stroke="#3a3a3a" stroke-width="1" /><line x1="466.65999999999997" y1="228.557" x2="466.65999999999997" y2="232.295" stroke="#3a3a3a" stroke-width="1" /><line x1="465.35999999999996" y1="232.295" x2="467.96" y2="232.295" stroke="#3a3a3a" stroke-width="1" /><rect x="416.9" y="243.2" width="4.0" height="4.0" fill="#fff" stroke="#3a3a3a" stroke-width="1"/><rect x="434.81" y="218.10199999999998" width="4.0" height="4.0" fill="#fff" stroke="#3a3a3a" stroke-width="1"/><rect x="452.71999999999997" y="228.78199999999998" width="4.0" height="4.0" fill="#fff" stroke="#3a3a3a" stroke-width="1"/><rect x="464.65999999999997" y="226.557" width="4.0" height="4.0" fill="#fff" stroke="#3a3a3a" stroke-width="1"/><rect x="488.53999999999996" y="228.159" width="4.0" height="4.0" fill="#fff" stroke="#3a3a3a" stroke-width="1"/><rect x="506.5" y="243.2" width="4.0" height="4.0" fill="#fff" stroke="#3a3a3a" stroke-width="1"/><rect x="416.5" y="242.79999999999998" width="4.8" height="4.8" fill="#111"/><rect x="434.41" y="200.70299999999997" width="4.8" height="4.8" fill="#111"/><rect x="452.32" y="189.39999999999998" width="4.8" height="4.8" fill="#111"/><rect x="464.26" y="184.41599999999997" width="4.8" height="4.8" fill="#111"/><text transform="translate(437.01,202.10299999999998) scale(1,1.12)" font-size="6" text-anchor="middle" fill="#1e1e1e" font-weight="normal" letter-spacing="0.4">***</text><text transform="translate(454.91999999999996,190.79999999999998) scale(1,1.12)" font-size="6" text-anchor="middle" fill="#1e1e1e" font-weight="normal" letter-spacing="0.4">***</text><text transform="translate(466.85999999999996,185.81599999999997) scale(1,1.12)" font-size="6" text-anchor="middle" fill="#1e1e1e" font-weight="normal" letter-spacing="0.4">***</text><line x1="288.3" y1="261.78" x2="288.3" y2="329.0" stroke="#3a3a3a" stroke-width="1" /><line x1="285.7" y1="328.5" x2="288.3" y2="328.5" stroke="#3a3a3a" stroke-width="1" /><text transform="translate(284.2,331.0) scale(1,1.12)" font-size="7" text-anchor="end" fill="#1e1e1e" font-weight="normal" >0</text><line x1="285.7" y1="320.16" x2="288.3" y2="320.16" stroke="#3a3a3a" stroke-width="1" /><text transform="translate(284.2,322.66) scale(1,1.12)" font-size="7" text-anchor="end" fill="#1e1e1e" font-weight="normal" >1</text><line x1="285.7" y1="311.82" x2="288.3" y2="311.82" stroke="#3a3a3a" stroke-width="1" /><text transform="translate(284.2,314.32) scale(1,1.12)" font-size="7" text-anchor="end" fill="#1e1e1e" font-weight="normal" >2</text><line x1="285.7" y1="303.48" x2="288.3" y2="303.48" stroke="#3a3a3a" stroke-width="1" /><text transform="translate(284.2,305.98) scale(1,1.12)" font-size="7" text-anchor="end" fill="#1e1e1e" font-weight="normal" >3</text><line x1="285.7" y1="295.14" x2="288.3" y2="295.14" stroke="#3a3a3a" stroke-width="1" /><text transform="translate(284.2,297.64) scale(1,1.12)" font-size="7" text-anchor="end" fill="#1e1e1e" font-weight="normal" >4</text><line x1="285.7" y1="286.8" x2="288.3" y2="286.8" stroke="#3a3a3a" stroke-width="1" /><text transform="translate(284.2,289.3) scale(1,1.12)" font-size="7" text-anchor="end" fill="#1e1e1e" font-weight="normal" >5</text><line x1="285.7" y1="278.46" x2="288.3" y2="278.46" stroke="#3a3a3a" stroke-width="1" /><text transform="translate(284.2,280.96) scale(1,1.12)" font-size="7" text-anchor="end" fill="#1e1e1e" font-weight="normal" >6</text><line x1="285.7" y1="270.12" x2="288.3" y2="270.12" stroke="#3a3a3a" stroke-width="1" /><text transform="translate(284.2,272.62) scale(1,1.12)" font-size="7" text-anchor="end" fill="#1e1e1e" font-weight="normal" >7</text><line x1="285.7" y1="261.78" x2="288.3" y2="261.78" stroke="#3a3a3a" stroke-width="1" /><text transform="translate(284.2,264.28) scale(1,1.12)" font-size="7" text-anchor="end" fill="#1e1e1e" font-weight="normal" >8</text><line x1="288.3" y1="328.5" x2="368.6" y2="328.5" stroke="#3a3a3a" stroke-width="1" /><line x1="372.4" y1="328.5" x2="388.5" y2="328.5" stroke="#3a3a3a" stroke-width="1" /><ellipse cx="368.3" cy="328.5" rx="0.8" ry="1.3" fill="#3a3a3a"/><ellipse cx="372.7" cy="328.5" rx="0.8" ry="1.3" fill="#3a3a3a"/><line x1="288.5" y1="328.5" x2="288.5" y2="331.0" stroke="#3a3a3a" stroke-width="1" /><text transform="translate(288.8,339.0) scale(1,1.12)" font-size="7" text-anchor="middle" fill="#1e1e1e" font-weight="normal" >0</text><line x1="306.86" y1="328.5" x2="306.86" y2="331.0" stroke="#3a3a3a" stroke-width="1" /><text transform="translate(307.16,339.0) scale(1,1.12)" font-size="7" text-anchor="middle" fill="#1e1e1e" font-weight="normal" >18</text><line x1="325.22" y1="328.5" x2="325.22" y2="331.0" stroke="#3a3a3a" stroke-width="1" /><text transform="translate(325.52000000000004,339.0) scale(1,1.12)" font-size="7" text-anchor="middle" fill="#1e1e1e" font-weight="normal" >36</text><line x1="337.46" y1="328.5" x2="337.46" y2="331.0" stroke="#3a3a3a" stroke-width="1" /><text transform="translate(337.76,339.0) scale(1,1.12)" font-size="7" text-anchor="middle" fill="#1e1e1e" font-weight="normal" >48</text><line x1="361.94" y1="328.5" x2="361.94" y2="331.0" stroke="#3a3a3a" stroke-width="1" /><text transform="translate(362.5,339.0) scale(1,1.12)" font-size="7" text-anchor="middle" fill="#1e1e1e" font-weight="normal" >72</text><line x1="380.7" y1="328.5" x2="380.7" y2="331.0" stroke="#3a3a3a" stroke-width="1" /><text transform="translate(381.0,339.0) scale(1,1.12)" font-size="7" text-anchor="middle" fill="#1e1e1e" font-weight="normal" >168</text><line x1="288.3" y1="320.4102" x2="388.8" y2="320.4102" stroke="#4a4a4a" stroke-width="1.2" /><text transform="translate(297,270.5) scale(1,1.12)" font-size="7.2" text-anchor="start" fill="#1e1e1e" font-weight="normal" >Brain</text><polyline points="325.22,328.50 337.46,328.50 361.94,328.50 380.70,315.57" fill="none" stroke="#3a3a3a" stroke-width="1"/><polyline points="288.50,328.50 306.86,328.50 325.22,295.97 337.46,283.80" fill="none" stroke="#222" stroke-width="1"/><line x1="380.7" y1="315.573" x2="380.7" y2="318.9924" stroke="#3a3a3a" stroke-width="1" /><line x1="379.4" y1="318.9924" x2="382.0" y2="318.9924" stroke="#3a3a3a" stroke-width="1" /><rect x="323.22" y="326.5" width="4.0" height="4.0" fill="#fff" stroke="#3a3a3a" stroke-width="1"/><rect x="335.46" y="326.5" width="4.0" height="4.0" fill="#fff" stroke="#3a3a3a" stroke-width="1"/><rect x="359.94" y="326.5" width="4.0" height="4.0" fill="#fff" stroke="#3a3a3a" stroke-width="1"/><rect x="378.7" y="313.573" width="4.0" height="4.0" fill="#fff" stroke="#3a3a3a" stroke-width="1"/><rect x="286.1" y="326.1" width="4.8" height="4.8" fill="#111"/><rect x="304.46000000000004" y="326.1" width="4.8" height="4.8" fill="#111"/><rect x="322.82000000000005" y="293.574" width="4.8" height="4.8" fill="#111"/><rect x="335.06" y="281.3976" width="4.8" height="4.8" fill="#111"/><text transform="translate(325.42,294.974) scale(1,1.12)" font-size="6" text-anchor="middle" fill="#1e1e1e" font-weight="normal" letter-spacing="0.4">***</text><text transform="translate(337.65999999999997,282.7976) scale(1,1.12)" font-size="6" text-anchor="middle" fill="#1e1e1e" font-weight="normal" letter-spacing="0.4">***</text><line x1="418.6" y1="262.02" x2="418.6" y2="329.0" stroke="#3a3a3a" stroke-width="1" /><line x1="416.0" y1="328.5" x2="418.6" y2="328.5" stroke="#3a3a3a" stroke-width="1" /><text transform="translate(415.6,331.0) scale(1,1.12)" font-size="7" text-anchor="end" fill="#1e1e1e" font-weight="normal" >0</text><line x1="416.0" y1="320.19" x2="418.6" y2="320.19" stroke="#3a3a3a" stroke-width="1" /><text transform="translate(415.6,322.69) scale(1,1.12)" font-size="7" text-anchor="end" fill="#1e1e1e" font-weight="normal" >1</text><line x1="416.0" y1="311.88" x2="418.6" y2="311.88" stroke="#3a3a3a" stroke-width="1" /><text transform="translate(415.6,314.38) scale(1,1.12)" font-size="7" text-anchor="end" fill="#1e1e1e" font-weight="normal" >2</text><line x1="416.0" y1="303.57" x2="418.6" y2="303.57" stroke="#3a3a3a" stroke-width="1" /><text transform="translate(415.6,306.07) scale(1,1.12)" font-size="7" text-anchor="end" fill="#1e1e1e" font-weight="normal" >3</text><line x1="416.0" y1="295.26" x2="418.6" y2="295.26" stroke="#3a3a3a" stroke-width="1" /><text transform="translate(415.6,297.76) scale(1,1.12)" font-size="7" text-anchor="end" fill="#1e1e1e" font-weight="normal" >4</text><line x1="416.0" y1="286.95" x2="418.6" y2="286.95" stroke="#3a3a3a" stroke-width="1" /><text transform="translate(415.6,289.45) scale(1,1.12)" font-size="7" text-anchor="end" fill="#1e1e1e" font-weight="normal" >5</text><line x1="416.0" y1="278.64" x2="418.6" y2="278.64" stroke="#3a3a3a" stroke-width="1" /><text transform="translate(415.6,281.14) scale(1,1.12)" font-size="7" text-anchor="end" fill="#1e1e1e" font-weight="normal" >6</text><line x1="416.0" y1="270.33" x2="418.6" y2="270.33" stroke="#3a3a3a" stroke-width="1" /><text transform="translate(415.6,272.83) scale(1,1.12)" font-size="7" text-anchor="end" fill="#1e1e1e" font-weight="normal" >7</text><line x1="416.0" y1="262.02" x2="418.6" y2="262.02" stroke="#3a3a3a" stroke-width="1" /><text transform="translate(415.6,264.52) scale(1,1.12)" font-size="7" text-anchor="end" fill="#1e1e1e" font-weight="normal" >8</text><line x1="418.6" y1="328.5" x2="498.2" y2="328.5" stroke="#3a3a3a" stroke-width="1" /><line x1="502" y1="328.5" x2="517.3" y2="328.5" stroke="#3a3a3a" stroke-width="1" /><ellipse cx="497.9" cy="328.5" rx="0.8" ry="1.3" fill="#3a3a3a"/><ellipse cx="502.3" cy="328.5" rx="0.8" ry="1.3" fill="#3a3a3a"/><line x1="418.5" y1="328.5" x2="418.5" y2="331.0" stroke="#3a3a3a" stroke-width="1" /><text transform="translate(418.4,339.0) scale(1,1.12)" font-size="7" text-anchor="middle" fill="#1e1e1e" font-weight="normal" >0</text><line x1="436.824" y1="328.5" x2="436.824" y2="331.0" stroke="#3a3a3a" stroke-width="1" /><text transform="translate(437.5,339.0) scale(1,1.12)" font-size="7" text-anchor="middle" fill="#1e1e1e" font-weight="normal" >18</text><line x1="455.148" y1="328.5" x2="455.148" y2="331.0" stroke="#3a3a3a" stroke-width="1" /><text transform="translate(456.8,339.0) scale(1,1.12)" font-size="7" text-anchor="middle" fill="#1e1e1e" font-weight="normal" >36</text><line x1="467.36400000000003" y1="328.5" x2="467.36400000000003" y2="331.0" stroke="#3a3a3a" stroke-width="1" /><text transform="translate(469.0,339.0) scale(1,1.12)" font-size="7" text-anchor="middle" fill="#1e1e1e" font-weight="normal" >48</text><line x1="491.796" y1="328.5" x2="491.796" y2="331.0" stroke="#3a3a3a" stroke-width="1" /><text transform="translate(494.8,339.0) scale(1,1.12)" font-size="7" text-anchor="middle" fill="#1e1e1e" font-weight="normal" >72</text><line x1="509.8" y1="328.5" x2="509.8" y2="331.0" stroke="#3a3a3a" stroke-width="1" /><text transform="translate(513.6,339.0) scale(1,1.12)" font-size="7" text-anchor="middle" fill="#1e1e1e" font-weight="normal" >168</text><line x1="418.6" y1="320.5224" x2="516.6" y2="320.5224" stroke="#4a4a4a" stroke-width="1.2" /><text transform="translate(426.6,269) scale(1,1.12)" font-size="7.2" text-anchor="start" fill="#1e1e1e" font-weight="normal" >Lung</text><polyline points="418.50,328.50 436.82,318.53 455.15,318.53 467.36,320.44 491.80,328.50 497.70,328.50" fill="none" stroke="#3a3a3a" stroke-width="1"/><polyline points="502.50,328.50 509.80,328.50" fill="none" stroke="#3a3a3a" stroke-width="1"/><polyline points="418.50,328.50 436.82,300.99 455.15,274.07 467.36,272.41" fill="none" stroke="#222" stroke-width="1"/><rect x="416.5" y="326.5" width="4.0" height="4.0" fill="#fff" stroke="#3a3a3a" stroke-width="1"/><rect x="434.824" y="316.528" width="4.0" height="4.0" fill="#fff" stroke="#3a3a3a" stroke-width="1"/><rect x="453.148" y="316.528" width="4.0" height="4.0" fill="#fff" stroke="#3a3a3a" stroke-width="1"/><rect x="465.36400000000003" y="318.4393" width="4.0" height="4.0" fill="#fff" stroke="#3a3a3a" stroke-width="1"/><rect x="489.796" y="326.5" width="4.0" height="4.0" fill="#fff" stroke="#3a3a3a" stroke-width="1"/><rect x="507.8" y="326.5" width="4.0" height="4.0" fill="#fff" stroke="#3a3a3a" stroke-width="1"/><rect x="416.1" y="326.1" width="4.8" height="4.8" fill="#111"/><rect x="434.42400000000004" y="298.5939" width="4.8" height="4.8" fill="#111"/><rect x="452.74800000000005" y="271.6695" width="4.8" height="4.8" fill="#111"/><rect x="464.96400000000006" y="270.00750000000005" width="4.8" height="4.8" fill="#111"/><text transform="translate(437.024,299.9939) scale(1,1.12)" font-size="6" text-anchor="middle" fill="#1e1e1e" font-weight="normal" letter-spacing="0.4">**</text><text transform="translate(455.348,273.0695) scale(1,1.12)" font-size="6" text-anchor="middle" fill="#1e1e1e" font-weight="normal" letter-spacing="0.4">***</text><text transform="translate(467.564,271.4075) scale(1,1.12)" font-size="6" text-anchor="middle" fill="#1e1e1e" font-weight="normal" letter-spacing="0.4">***</text>
</svg></body></html>
